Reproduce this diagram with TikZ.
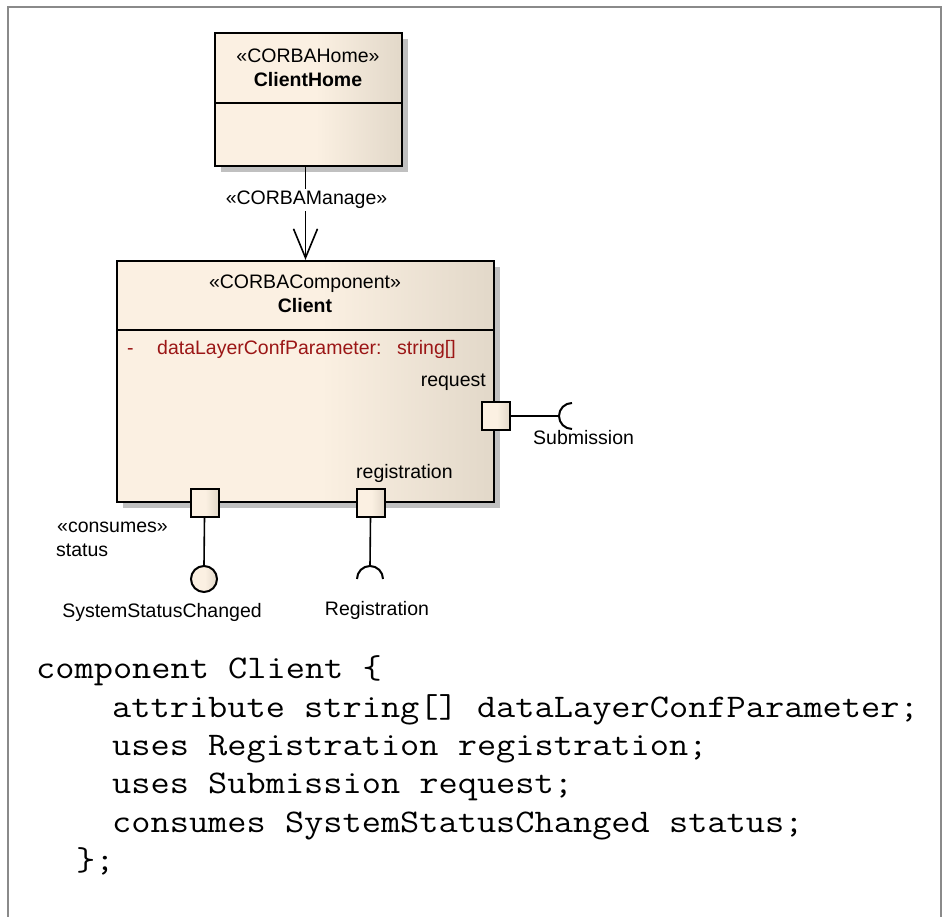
\documentclass[tikz,border=0pt]{standalone}
\usepackage{fontspec}
\setmainfont{Liberation Sans}
\newfontfamily\codefont{Latin Modern Mono}[FakeStretch=1.13]
\usetikzlibrary{shadows,arrows.meta}

\definecolor{boxlight}{RGB}{251,240,226}
\definecolor{boxdark}{RGB}{226,216,201}
\definecolor{shadowgray}{RGB}{192,192,192}
\definecolor{framegray}{RGB}{138,138,138}
\definecolor{attrred}{RGB}{155,22,22}

% beige fill that darkens towards the right edge (path spans 25bp..75bp)
\pgfdeclarehorizontalshading{beigeshade}{100bp}{%
  color(0bp)=(boxlight); color(25bp)=(boxlight); color(52bp)=(boxlight);
  color(75bp)=(boxdark); color(100bp)=(boxdark)}

\tikzset{
  umlbox/.style={draw=black, line width=2.2pt, shading=beigeshade,
    inner sep=0pt, general shadow={fill=shadowgray, shadow xshift=6pt, shadow yshift=-6pt}},
  portbox/.style={draw=black, line width=2pt, shading=beigeshade,
    minimum size=28pt, inner sep=0pt},
  lolli/.style={circle, draw=black, line width=2pt, shading=beigeshade,
    minimum size=26pt, inner sep=0pt},
  conn/.style={black, line width=1.6pt},
  lbl/.style={font=\fontsize{19.5}{22}\selectfont, inner sep=0pt, anchor=base},
  code/.style={font=\codefont\fontsize{33}{38.5}\selectfont, inner sep=0pt, anchor=base west},
}

\begin{document}
\begin{tikzpicture}[x=1pt, y=-1pt]
\useasboundingbox[fill=white] (0,0) rectangle (943,917);

% outer frame (open at the bottom)
\draw[framegray, line width=2.5pt] (8,935) -- (8,7) -- (941,7) -- (941,935);

% CORBA home
\node[umlbox, minimum width=187pt, minimum height=133pt] (home) at (308.5,99.5) {};
\draw[line width=2pt] (215,103) -- (402,103);
\node[lbl] (homester) at (308,63) {«CORBAHome»};
\node[lbl, font=\fontsize{19.5}{22}\selectfont\bfseries] (homename) at (308,87) {ClientHome};

% CORBA component
\node[umlbox, minimum width=377pt, minimum height=241pt] (client) at (305.5,381.5) {};
\draw[line width=2pt] (117,330) -- (494,330);
\node[lbl] (clientster) at (305,289) {«CORBAComponent»};
\node[lbl, font=\fontsize{19.5}{22}\selectfont\bfseries] (clientname) at (305,313) {Client};
\node[lbl, anchor=base west, text=attrred] (attrdash) at (127,355) {-};
\node[lbl, anchor=base west, text=attrred] (attrname) at (157,355) {dataLayerConfParameter:};
\node[lbl, anchor=base west, text=attrred] (attrtype) at (397,355) {string[]};

% manage dependency
\draw[conn, -{Straight Barb[length=29pt, width=24pt, line width=1.6pt]}]
  (home.south -| client.north) -- (client.north);
\node[lbl, fill=white, inner sep=2pt] (manage) at (306.5,205) {«CORBAManage»};

% ports
\node[portbox] (req) at (496,416) {};
\node[portbox] (stat) at (204.5,502.5) {};
\node[portbox] (reg) at (370.5,502.5) {};

\node[lbl, anchor=base east] (reqlbl) at (486,387) {request};
\node[lbl, anchor=base west] (reglbl) at (356,478) {registration};
\node[lbl, anchor=base west] (statster) at (57,532) {«consumes»};
\node[lbl, anchor=base west] (statlbl) at (56,556) {status};

% request -> Submission (required socket)
\coordinate (subsock) at (559,416);
\draw[conn] (req.east) -- (subsock);
\draw[conn, line width=2pt] (572,403) .. controls (564.8,403) and (559,408.8) .. (subsock)
  .. controls (559,423.2) and (564.8,429) .. (572,429);
\node[lbl, anchor=base west] (subname) at (533,444) {Submission};

% status -> SystemStatusChanged (lollipop)
\node[lolli] (ssc) at (204,579) {};
\draw[conn] (stat.south) -- (ssc.north);
\node[lbl] (sscname) at (162,617) {SystemStatusChanged};

% registration -> Registration (required socket)
\coordinate (regsock) at (370,566);
\draw[conn] (reg.south) -- (regsock);
\draw[conn, line width=2pt] (357,579) .. controls (357,571.8) and (362.8,566) .. (regsock)
  .. controls (377.2,566) and (383,571.8) .. (383,579);
\node[lbl] (regname) at (377,615) {Registration};

% IDL listing
\node[code] (idl1) at (36,678) {component Client \{};
\node[code] (idl2) at (112,717) {attribute string[] dataLayerConfParameter;};
\node[code] (idl3) at (112,755) {uses Registration registration;};
\node[code] (idl4) at (112,793) {uses Submission request;};
\node[code] (idl5) at (112,832) {consumes SystemStatusChanged status;};
\node[code] (idl6) at (76,870) {\};};
\end{tikzpicture}
\end{document}
